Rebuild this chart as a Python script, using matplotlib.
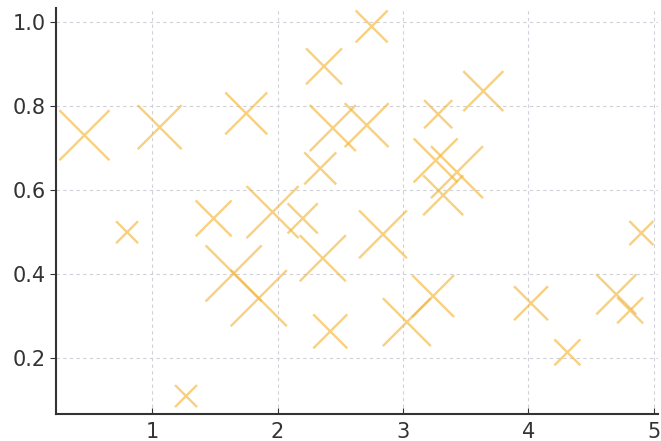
import matplotlib
matplotlib.use("Agg")
import matplotlib.pyplot as plt

# values
x_vals = [0.46, 1.06, 0.80, 1.27, 1.49, 1.65, 1.85, 1.75, 1.96, 2.20,
          2.37, 2.75, 2.44, 2.71, 2.34, 3.64, 3.28, 3.26, 3.43, 3.32,
          2.36, 2.42, 2.84, 3.03, 3.24, 4.02, 4.31, 4.70, 4.81, 4.90]
y_vals = [0.731, 0.750, 0.500, 0.110, 0.533, 0.402, 0.343, 0.783, 0.548, 0.533,
          0.895, 0.990, 0.748, 0.755, 0.652, 0.836, 0.781, 0.671, 0.643, 0.588,
          0.438, 0.264, 0.495, 0.286, 0.348, 0.331, 0.214, 0.352, 0.314, 0.498]
sizes = [1300, 1000, 250, 250, 670, 1630, 1630, 910, 1400, 470,
         670, 530, 1100, 1000, 530, 830, 410, 1000, 1400, 830,
         1100, 600, 1190, 1190, 910, 600, 350, 830, 350, 300]

fig = plt.figure(figsize=(6.61, 4.41), dpi=100)
ax = fig.add_axes([0.085, 0.061, 0.91, 0.92])

ax.scatter(x_vals, y_vals, s=sizes, marker='x', color='#f4b73c', alpha=0.65,
           linewidths=1.7, zorder=3)

ax.set_xlim(0.235, 5.03)
ax.set_ylim(0.067, 1.033)
ax.set_xticks([1, 2, 3, 4, 5])
ax.set_yticks([0.2, 0.4, 0.6, 0.8, 1.0])

ax.grid(True, linestyle=(0, (3, 3)), color='#d0d0d8', linewidth=0.8)
ax.set_axisbelow(True)
for side in ['top', 'right']:
    ax.spines[side].set_visible(False)
for side in ['left', 'bottom']:
    ax.spines[side].set_color('#333333')
    ax.spines[side].set_linewidth(1.5)

ax.tick_params(axis='x', direction='in', length=4, labelsize=15, colors='#333333', pad=6)
ax.tick_params(axis='y', direction='out', length=4, labelsize=15, colors='#333333')

fig.savefig("out.png", dpi=100)
